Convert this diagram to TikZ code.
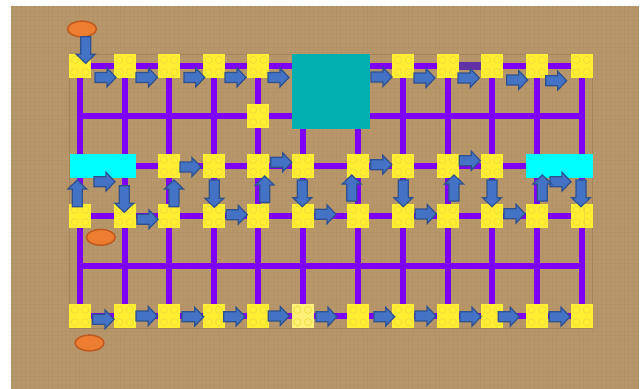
\documentclass[tikz,border=0pt]{standalone}
\usetikzlibrary{calc,shapes.geometric}
\definecolor{board}{RGB}{183,150,106}
\definecolor{boardline}{RGB}{165,132,92}
\definecolor{wire}{RGB}{125,0,245}
\definecolor{wiredark}{RGB}{98,48,165}
\definecolor{brickfill}{RGB}{255,238,50}
\definecolor{brickpale}{RGB}{255,240,120}
\definecolor{stud}{RGB}{238,220,60}
\definecolor{teal}{RGB}{0,176,176}
\definecolor{aqua}{RGB}{0,255,255}
\definecolor{flow}{RGB}{68,114,196}
\definecolor{flowedge}{RGB}{47,82,143}
\definecolor{ovalfill}{RGB}{237,125,49}
\definecolor{ovaledge}{RGB}{190,90,30}
\tikzset{
  wireline/.style={draw=wire,line width=4.5pt},
  brick/.style={rectangle,fill=brickfill,inner sep=0pt,minimum width=16.6pt,minimum height=18.4pt,
    path picture={
      \foreach \sx in {-1,1}\foreach \sy in {-1,1}
        \draw[stud,line width=0.5pt] ($(path picture bounding box.center)+(\sx*3.9pt,\sy*4.6pt)$) circle (2.7pt);
    }},
  blockzone/.style={rectangle,inner sep=0pt},
  oval/.style={ellipse,draw=ovaledge,line width=1.1pt,fill=ovalfill,inner sep=0pt,minimum width=21.6pt,minimum height=11.8pt},
  flowarrow/.style={fill=flow,draw=flowedge,line width=0.9pt,line join=miter}
}
% block arrow: tail (x1,y1) to tip (x2,y2), in reference pixels
\newcommand{\blockarrow}[4]{%
  \begin{scope}[shift={(#1,#2)}]
    \pgfmathsetmacro{\arrang}{atan2(#2-#4,#3-#1)}
    \pgfmathsetmacro{\arrlen}{veclen(#3-#1,#4-#2)}
    \begin{scope}[rotate=\arrang]
      \draw[flowarrow] (0,-5) -- ({\arrlen-9},-5) -- ({\arrlen-9},-9.4) -- (\arrlen,0)
        -- ({\arrlen-9},9.4) -- ({\arrlen-9},5) -- (0,5) -- cycle;
    \end{scope}
  \end{scope}}
\begin{document}
\begin{tikzpicture}[x=0.75pt,y=-0.75pt]
\useasboundingbox (0,0) rectangle (643,389);
\fill[white] (0,0) rectangle (643,389);
\fill[board] (10.5,5.5) rectangle (639,389);
% baseplate texture
\begin{scope}
  \clip (10.5,5.5) rectangle (639,389);
  \foreach \tx in {12,16.5,...,639} \draw[boardline,opacity=0.14,line width=0.3pt] (\tx,5) -- (\tx,389);
  \foreach \ty in {7,11.5,...,389} \draw[boardline,opacity=0.14,line width=0.3pt] (10,\ty) -- (639,\ty);
\end{scope}
\draw[boardline,line width=0.4pt] (69.5,54) rectangle (592,328);

% grid coordinates
\foreach \c/\x in {a/80,b/124.7,c/169,d/213.8,e/258.3,f/302.7,g/358.4,h/403.3,i/447.7,j/492.3,k/536.8,l/581.7}{
  \foreach \r/\y in {1/66,2/116,3/166,4/216,5/266,6/316}{
    \coordinate (\c\r) at (\x,\y);
  }
}
% purple wiring
\foreach \r in {1,2,3,4,5,6} \draw[wireline] (a\r) -- (l\r);
\foreach \c in {a,b,c,d,e,f,g,h,i,j,k,l} \draw[wireline] (\c1) -- (\c6);
\draw[wiredark,line width=5.4pt] (458,66) -- (481,66);

% large blocks
\node[blockzone,fill=teal,minimum width=58.5pt,minimum height=56.3pt] (hub) at (331,91.5) {};
\node[blockzone,fill=aqua,minimum width=49.8pt,minimum height=18.4pt] (westbay) at (103,166) {};
\node[blockzone,fill=aqua,minimum width=49.8pt,minimum height=18.4pt] (eastbay) at (559.5,166) {};

% yellow bricks
\foreach \n in {a1,b1,c1,d1,e1,h1,i1,j1,k1,l1,e2,
                c3,d3,e3,f3,g3,h3,i3,j3,
                a4,b4,c4,d4,e4,f4,g4,h4,i4,j4,k4,l4,
                a6,b6,c6,d6,e6,g6,h6,i6,j6,k6,l6}
  \node[brick] (br\n) at (\n) {};
\node[brick,fill=brickpale] (brf6) at (f6) {};
\draw[stud,line width=0.4pt] (584.7,204) -- (584.7,228);

% orange ovals
\node[oval] (ovaltop) at (82,29) {};
\node[oval] (ovalmid) at (100.8,237.3) {};
\node[oval] (ovalbot) at (89.5,343) {};

% flow arrows
\foreach \xa/\ya/\xb/\yb in {
  85.7/36.7/85.7/63.3,
  95/77.5/116/77.5, 136/77.5/157.5/77.5, 184/77.5/204.7/77.5, 225/77.5/246/77.5, 268/77.5/289/77.5,
  371/77/392/77, 414/78/435/78, 458/78/479.3/78, 506.7/80/527.7/80, 545.7/80.7/566.7/80.7,
  94/181.7/115/181.7, 180/167/201/167, 270.7/162.3/291.7/162.3,
  370.7/164.7/391.7/164.7, 459.3/160.7/480.3/160.7, 550/181.7/571/181.7,
  137/219.3/158/219.3, 226.3/214.7/247.3/214.7, 315/214.3/336/214.3,
  415.3/214/436.3/214, 504/213.7/525/213.7,
  77.3/206.7/77.3/180, 124.3/185.7/124.3/212.3, 174/206.7/174/180, 214.3/180/214.3/207.3,
  264.7/202.3/264.7/176, 302.3/180/302.3/206.7, 351.7/201/351.7/175, 403.3/180/403.3/206.7,
  454/201/454/175, 492/180/492/206.7, 542.3/201/542.3/175, 581/180/581/206.7,
  92.7/319.3/114/319.3, 136/316/157.3/316, 182/316.7/203.7/316.7, 223.7/316.7/245/316.7,
  268.3/316/289.3/316, 316/316.7/337/316.7, 374/316.7/394.7/316.7, 415/316/436/316,
  460/316.7/481/316.7, 498.3/316.7/519.3/316.7, 549.3/316.7/570/316.7}
  {\blockarrow{\xa}{\ya}{\xb}{\yb}}
\end{tikzpicture}
\end{document}
